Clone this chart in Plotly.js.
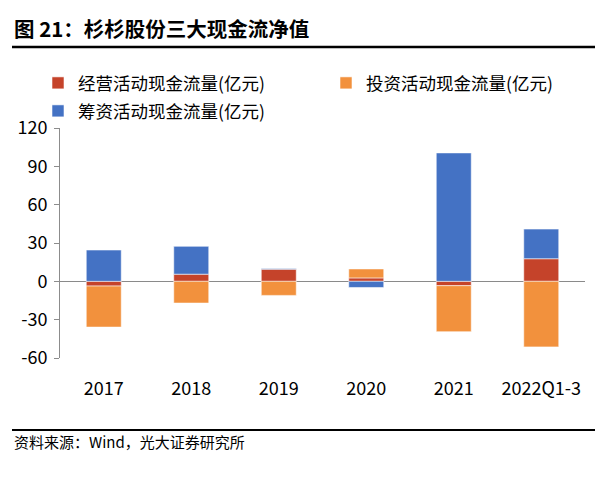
<!DOCTYPE html>
<html>
<head>
<meta charset="utf-8">
<script src="https://cdn.plot.ly/plotly-3.0.1.min.js"></script>
<style>html,body{margin:0;padding:0;background:#fff;}#chart{width:595px;height:496px;}</style>
</head>
<body>
<div id="chart"></div>
<script>
var categories = ["2017", "2018", "2019", "2020", "2021", "2022Q1-3"];
var operating = [-3.7, 5.6, 9.5, 2.7, -3.4, 17.7];
var investing = [-32.1, -17.0, -11.0, 7.0, -36.0, -51.3];
var financing = [24.5, 21.8, 0.6, -4.8, 100.5, 23.2];
var seriesNames = ["经营活动现金流量(亿元)", "投资活动现金流量(亿元)", "筹资活动现金流量(亿元)"];
var tickValues = [-60, -30, 0, 30, 60, 90, 120];

var FONT = "Noto Sans CJK SC, Noto Sans, sans-serif";
var W = 595, H = 496, L = 60, R = 10, T = 128, B = 138;
var pw = W - L - R, ph = H - T - B;
function px(x) { return (x - L) / pw; }
function py(y) { return (H - B - y) / ph; }

var lineStyle = {color: "rgba(255,255,255,0.55)", width: 1};
var traces = [
  {type: "bar", name: seriesNames[0], x: categories, y: operating,
   marker: {color: "#C5432A", line: lineStyle}, legend: "legend"},
  {type: "bar", name: seriesNames[1], x: categories, y: investing,
   marker: {color: "#F2913D", line: lineStyle}, legend: "legend3"},
  {type: "bar", name: seriesNames[2], x: categories, y: financing,
   marker: {color: "#4472C4", line: lineStyle}, legend: "legend2"}
];

function legendAt(xpx, ypx) {
  return {orientation: "h", x: px(xpx), y: py(ypx), xanchor: "left", yanchor: "middle",
          font: {family: FONT, size: 17.5, color: "#000"},
          bgcolor: "rgba(0,0,0,0)", itemclick: false};
}

var layout = {
  width: W, height: H,
  margin: {l: L, r: R, t: T, b: B, pad: 0},
  paper_bgcolor: "#fff", plot_bgcolor: "#fff",
  barmode: "relative", bargap: 0.6,
  font: {family: FONT, size: 18, color: "#000"},
  showlegend: true,
  legend: legendAt(38, 83),
  legend3: legendAt(326, 83),
  legend2: legendAt(38, 111),
  xaxis: {type: "category", showline: false, showgrid: false, zeroline: false,
          ticks: "", tickfont: {family: FONT, size: 18, color: "#000"}, ticklabelstandoff: 18,
          fixedrange: true},
  yaxis: {range: [-60, 120], tickvals: tickValues, ticktext: tickValues.map(String),
          showline: true, linecolor: "#8c8c8c", linewidth: 1,
          ticks: "outside", ticklen: 5, tickcolor: "#8c8c8c",
          showgrid: false, zeroline: true, zerolinecolor: "#8a8a8a", zerolinewidth: 1.5,
          tickfont: {family: FONT, size: 18, color: "#000"}, ticklabelstandoff: 3,
          fixedrange: true},
  annotations: [
    {xref: "paper", yref: "paper", x: px(12), y: py(28), xanchor: "left", yanchor: "middle",
     text: "<b>图 21：杉杉股份三大现金流净值</b>", showarrow: false,
     font: {family: FONT, size: 20.5, color: "#000"}},
    {xref: "paper", yref: "paper", x: px(12), y: py(441), xanchor: "left", yanchor: "middle",
     text: "资料来源：Wind，光大证券研究所", showarrow: false,
     font: {family: FONT, size: 15, color: "#000"}}
  ],
  shapes: [
    {type: "line", xref: "paper", yref: "paper", x0: px(12), x1: px(595), y0: py(47), y1: py(47),
     line: {color: "#000", width: 2.5}},
    {type: "line", xref: "paper", yref: "paper", x0: px(12), x1: px(595), y0: py(430), y1: py(430),
     line: {color: "#000", width: 2}}
  ]
};

Plotly.newPlot("chart", traces, layout, {displayModeBar: false, staticPlot: true});
</script>
</body>
</html>
